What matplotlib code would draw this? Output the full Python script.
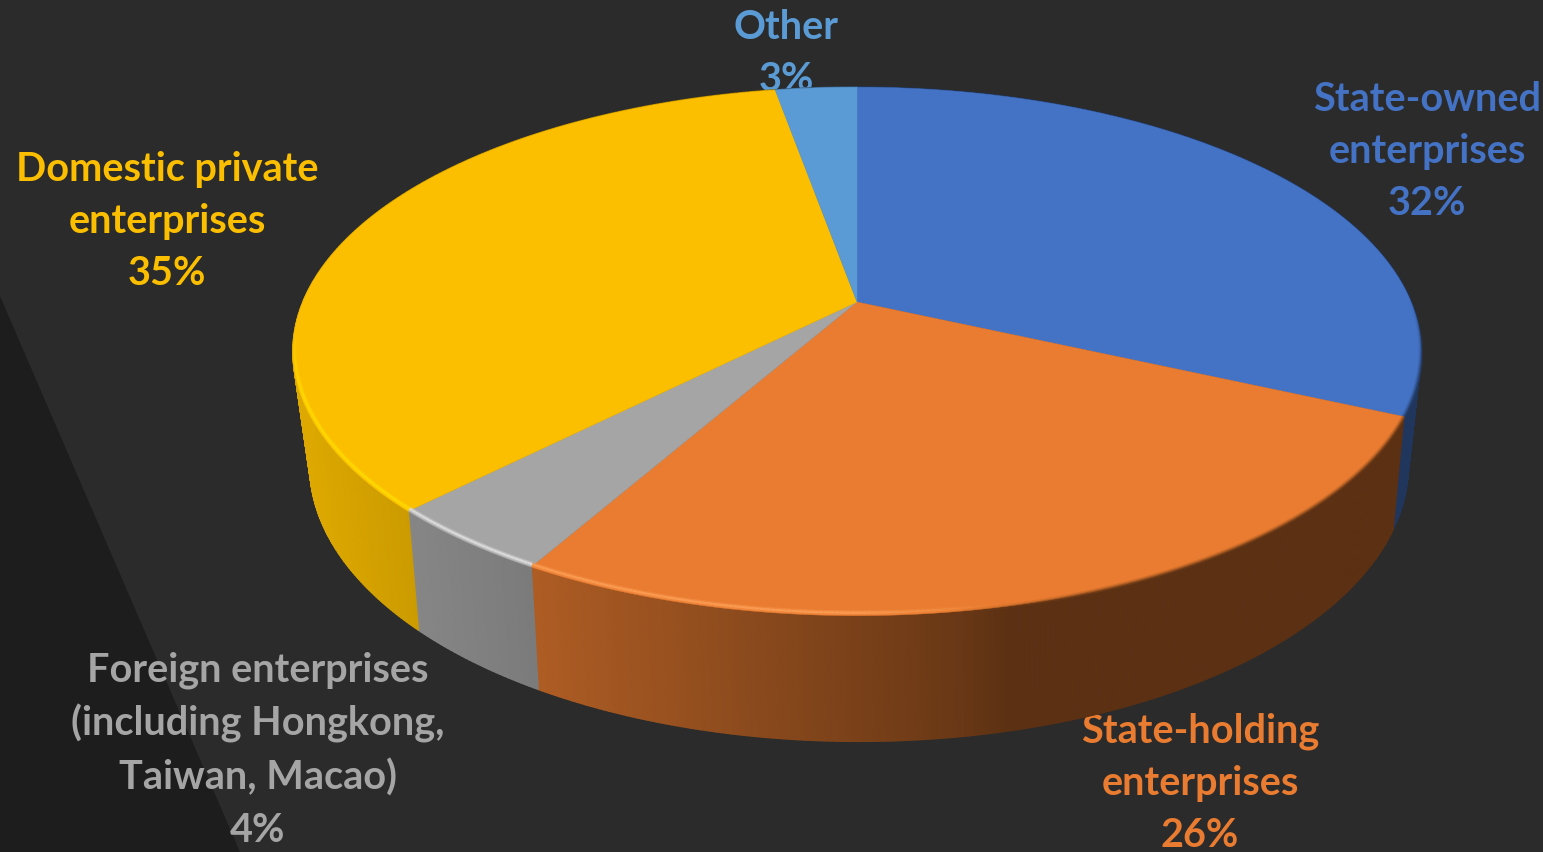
import numpy as np
import matplotlib
matplotlib.use("Agg")
import matplotlib.pyplot as plt
from matplotlib.collections import LineCollection, PolyCollection
from matplotlib.colors import to_rgb
from matplotlib.patches import Polygon

# shares in drawing order, clockwise from 12 o'clock
names = ["State-owned\nenterprises", "State-holding\nenterprises",
         "Foreign enterprises\n(including Hongkong,\nTaiwan, Macao)",
         "Domestic private\nenterprises", "Other"]
shares = [31.8, 26.4, 4.2, 34.8, 2.8]
colors = ["#4472C4", "#E97C30", "#A5A5A5", "#FBBF00", "#5B9BD5"]
rim_colors = [None, "#FA9A50", "#DADADA", "#FFD800", None]
label_x = [1427, 1200, 258, 167, 786]
label_y = [151, 783, 750, 221, 53]

# perspective of the disc, everything in image pixels
CX, CY, A, B, K = 857, 303, 554, 255, 0.187
BOTTOM_CX, BOTTOM_CY, BOTTOM_A, BOTTOM_B, BOTTOM_K = 859, 411, 538, 265, 0.2

# how dark the side wall gets going left to right
shade_x = [300, 410, 540, 960, 1010, 1420]
shade_k = [0.88, 0.81, 0.74, 0.45, 0.39, 0.39]


def project(theta, cx=CX, cy=CY, a=A, b=B, k=K):
    u, v = np.sin(theta), np.cos(theta)
    w = 1 + k * v
    return cx + a * u / w, cy - b * v / w


def segments(x, y):
    return [[(x[j], y[j]), (x[j + 1], y[j + 1])] for j in range(len(x) - 1)]


fig = plt.figure(figsize=(15.43, 8.53), dpi=100, facecolor="#2B2B2B")
ax = fig.add_axes([0, 0, 1, 1])
ax.set_xlim(0, 1543)
ax.set_ylim(853, 0)
ax.axis("off")

# darker band in the bottom left of the slide
ax.add_patch(Polygon([(0, 297), (240, 853), (0, 853)], facecolor="#1D1D1D", edgecolor="none", zorder=1))

edges = np.radians(np.cumsum([0] + shares) * 3.6)
for i in range(len(shares)):
    theta = np.linspace(edges[i], edges[i + 1], max(int(shares[i] * 8), 10))
    base = np.array(to_rgb(colors[i]))

    # side wall as thin strips
    x1, y1 = project(theta)
    x2, y2 = project(theta, BOTTOM_CX, BOTTOM_CY, BOTTOM_A, BOTTOM_B, BOTTOM_K)
    strips, strip_colors = [], []
    for j in range(len(theta) - 1):
        strips.append([(x1[j], y1[j]), (x1[j + 1], y1[j + 1]), (x2[j + 1], y2[j + 1]), (x2[j], y2[j])])
        shade = np.interp((x1[j] + x1[j + 1]) / 2, shade_x, shade_k)
        if i == 0:
            shade = 0.47
        strip_colors.append(base * shade)
    ax.add_collection(PolyCollection(strips, facecolors=strip_colors, edgecolors=strip_colors,
                                     linewidths=1.2, zorder=3))

    # top face
    ax.add_patch(Polygon([(CX, CY)] + list(zip(x1, y1)), facecolor=colors[i], edgecolor=colors[i],
                         linewidth=0.3, zorder=4))

    # bevel highlight on the front rim
    if rim_colors[i]:
        xr, yr = project(theta, CX, CY - 2, A * 0.997, B * 0.997)
        alpha = np.interp(xr[:-1], [300, 850, 1000], [1, 1, 0]) * np.interp(yr[:-1], [330, 400], [0, 1])
        rgb = to_rgb(rim_colors[i])
        ax.add_collection(LineCollection(segments(xr, yr), colors=[(*rgb, a * 0.4) for a in alpha],
                                         linewidths=3.5, zorder=5))
        ax.add_collection(LineCollection(segments(xr, yr), colors=[(*rgb, a) for a in alpha],
                                         linewidths=1.6, zorder=5))

    # soft dark edge on the right hand side, right on the rim
    alpha = np.interp(x1[:-1], [950, 1100], [0, 0.7]) * np.interp(y1[:-1], [300, 370], [0, 1])
    rgb = base * 0.65
    ax.add_collection(LineCollection(segments(x1, y1), colors=[(*rgb, a * 0.45) for a in alpha],
                                     linewidths=3.2, zorder=5))
    ax.add_collection(LineCollection(segments(x1, y1), colors=[(*rgb, a) for a in alpha],
                                     linewidths=1.2, zorder=5))

for i in range(len(shares)):
    ax.text(label_x[i], label_y[i], f"{names[i]}\n{round(shares[i])}%", color=colors[i],
            family="Lato", weight="bold", fontsize=28.5, ha="center", va="center",
            linespacing=1.5, zorder=2)

fig.savefig("out.png", dpi=100, facecolor=fig.get_facecolor())
